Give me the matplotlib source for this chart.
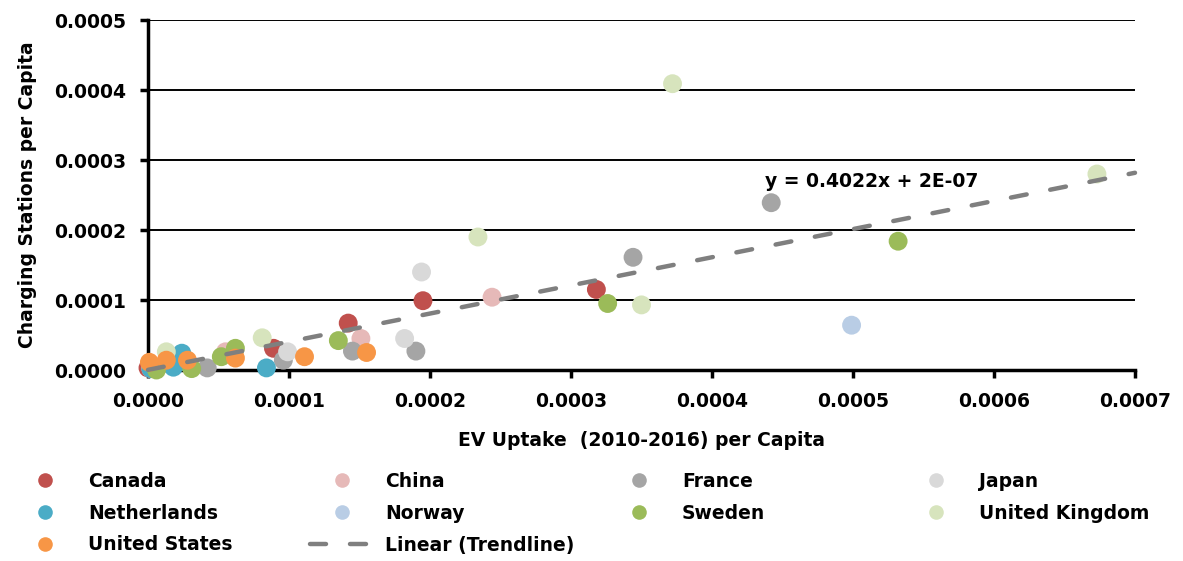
import matplotlib
matplotlib.use("Agg")
import matplotlib.pyplot as plt
from matplotlib.lines import Line2D
import numpy as np

plt.rcParams['font.family'] = ['DejaVu Sans']
plt.rcParams['font.weight'] = 'bold'

# ---- data (values in per-capita units) ----
canada_x = [0.0e-4, 0.89e-4, 1.42e-4, 1.95e-4, 3.18e-4]
canada_y = [0.03e-4, 0.31e-4, 0.67e-4, 0.99e-4, 1.15e-4]
china_x = [0.02e-4, 0.55e-4, 1.51e-4, 2.44e-4]
china_y = [0.02e-4, 0.26e-4, 0.45e-4, 1.04e-4]
france_x = [0.42e-4, 0.96e-4, 1.45e-4, 1.90e-4, 3.44e-4, 4.42e-4]
france_y = [0.03e-4, 0.14e-4, 0.27e-4, 0.27e-4, 1.61e-4, 2.39e-4]
japan_x = [0.02e-4, 0.99e-4, 1.82e-4, 1.94e-4]
japan_y = [0.05e-4, 0.26e-4, 0.45e-4, 1.40e-4]
netherlands_x = [0.02e-4, 0.18e-4, 0.24e-4, 0.28e-4, 0.84e-4]
netherlands_y = [0.02e-4, 0.04e-4, 0.24e-4, 0.10e-4, 0.03e-4]
norway_x = [4.99e-4]
norway_y = [0.64e-4]
sweden_x = [0.06e-4, 0.31e-4, 0.52e-4, 0.62e-4, 1.35e-4, 3.26e-4, 5.32e-4]
sweden_y = [0.0e-4, 0.02e-4, 0.19e-4, 0.31e-4, 0.42e-4, 0.95e-4, 1.84e-4]
uk_x = [0.13e-4, 0.81e-4, 2.34e-4, 3.50e-4, 3.72e-4, 6.73e-4]
uk_y = [0.26e-4, 0.46e-4, 1.90e-4, 0.93e-4, 4.09e-4, 2.80e-4]
us_x = [0.01e-4, 0.13e-4, 0.28e-4, 0.62e-4, 1.11e-4, 1.55e-4]
us_y = [0.11e-4, 0.14e-4, 0.14e-4, 0.17e-4, 0.19e-4, 0.25e-4]

trend_slope = 0.4022
trend_intercept = 2e-7
trend_label = "y = 0.4022x + 2E-07"

x_ticks = [0.0, 0.0001, 0.0002, 0.0003, 0.0004, 0.0005, 0.0006, 0.0007]
y_ticks = [0.0, 0.0001, 0.0002, 0.0003, 0.0004, 0.0005]

series = [
    ("Canada", canada_x, canada_y, "#C0504D"),
    ("China", china_x, china_y, "#E6B9B8"),
    ("France", france_x, france_y, "#A5A5A5"),
    ("Japan", japan_x, japan_y, "#D9D9D9"),
    ("Netherlands", netherlands_x, netherlands_y, "#4BACC6"),
    ("Norway", norway_x, norway_y, "#B9CDE5"),
    ("Sweden", sweden_x, sweden_y, "#9BBB59"),
    ("United Kingdom", uk_x, uk_y, "#D7E4BD"),
    ("United States", us_x, us_y, "#F79646"),
]

W, H = 1183, 561
fig = plt.figure(figsize=(W / 100, H / 100), dpi=100)
ax = fig.add_axes([148 / W, 1 - 370 / H, (1135 - 148) / W, (370 - 20) / H])

FS = 13.5
handles = {}
for i, (name, xs, ys, col) in enumerate(series):
    ax.scatter(xs, ys, s=185, color=col, edgecolors='none', zorder=3 + i, clip_on=False)
    handles[name] = Line2D([], [], linestyle='none', marker='o', markersize=10.5,
                           markerfacecolor=col, markeredgecolor='none')

tx = np.array([0.0, 0.0007])
ty = trend_slope * tx + trend_intercept
ax.plot(tx, ty, color="#7F7F7F", lw=3.2, dashes=(3.6, 5.4), dash_capstyle='round',
        zorder=20, clip_on=False)
handles["Linear (Trendline)"] = Line2D([], [], color="#7F7F7F", lw=3.2, dashes=(3.6, 5.4),
                                       dash_capstyle='round')

ax.text(5.13e-4, 2.69e-4, trend_label, ha='center', va='center', fontsize=FS,
        fontweight='bold', zorder=25)

ax.set_xlim(0, 0.0007)
ax.set_ylim(0, 0.0005)
ax.set_xticks(x_ticks)
ax.set_yticks(y_ticks)
ax.set_xticklabels([f"{v:.4f}" for v in x_ticks], fontsize=FS, fontweight='bold')
ax.set_yticklabels([f"{v:.4f}" for v in y_ticks], fontsize=FS, fontweight='bold')
ax.grid(axis='y', color='black', lw=1.4, zorder=0)
ax.set_axisbelow(True)
for s in ['top', 'right']:
    ax.spines[s].set_visible(False)
for s in ['left', 'bottom']:
    ax.spines[s].set_linewidth(2.5)
    ax.spines[s].set_zorder(2)
ax.tick_params(axis='both', direction='out', length=6, width=2.5, pad=10)
ax.set_xlabel("EV Uptake  (2010-2016) per Capita", fontsize=FS, fontweight='bold', labelpad=14)
ax.set_ylabel("Charging Stations per Capita", fontsize=FS, fontweight='bold', labelpad=12)

columns = [
    ["Canada", "Netherlands", "United States"],
    ["China", "Norway", "Linear (Trendline)"],
    ["France", "Sweden"],
    ["Japan", "United Kingdom"],
]
col_left = [13, 310, 607, 904]
for cx, names in zip(col_left, columns):
    fig.legend([handles[n] for n in names], names, loc='upper left',
               bbox_to_anchor=(cx / W, 1 - 472 / H), frameon=False,
               prop={'weight': 'bold', 'size': FS},
               borderpad=0, borderaxespad=0, handlelength=3.4, handletextpad=0.6,
               labelspacing=0.68)

fig.savefig("out.png", dpi=100)
